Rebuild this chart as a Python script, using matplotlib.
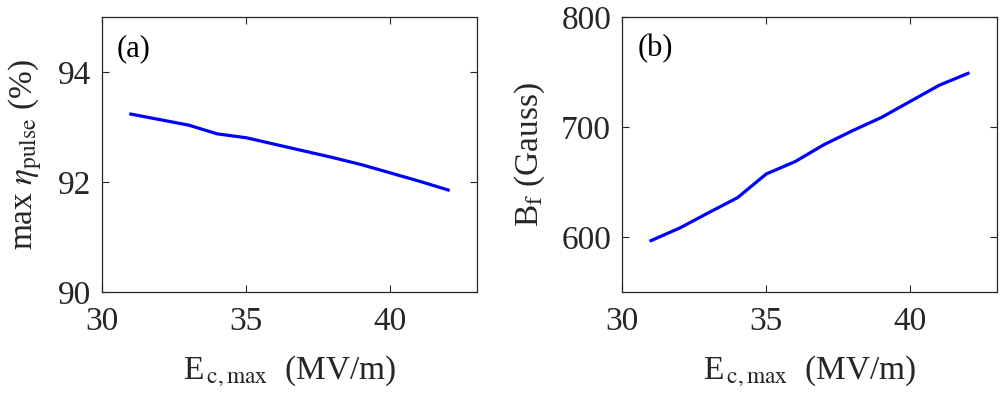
import matplotlib
matplotlib.use('Agg')
import matplotlib.pyplot as plt

plt.rcParams['font.family'] = ['Liberation Serif', 'DejaVu Serif']
plt.rcParams['mathtext.fontset'] = 'stix'
plt.rcParams['font.size'] = 24

e_cmax = [31, 32, 33, 34, 35, 36, 37, 38, 39, 40, 41, 42]
eta_pulse = [93.24, 93.14, 93.04, 92.88, 92.81, 92.69, 92.57, 92.45, 92.32, 92.17, 92.02, 91.86]
b_f = [597, 608.5, 622.4, 636, 657.6, 668.8, 684.2, 697, 709, 723.6, 738.2, 749]

dark = '#262626'

fig = plt.figure(figsize=(10.04, 4.04), dpi=100)
ax1 = fig.add_axes([0.1016, 0.2765, 0.3735, 0.6807])
ax2 = fig.add_axes([0.6198, 0.2765, 0.3730, 0.6807])

def style(ax):
    ax.tick_params(direction='in', top=True, right=True, length=5,
                   width=0.8, colors=dark, labelsize=24)
    ax.tick_params(axis='x', pad=10)
    ax.tick_params(axis='y', pad=8)
    for s in ax.spines.values():
        s.set_color(dark)
        s.set_linewidth(0.9)
    ax.set_xlim(30, 43)
    ax.set_xticks([30, 35, 40])
    ax.set_xlabel(r'E$_{\,\mathrm{c,max}}$  (MV/m)', color=dark, labelpad=12)

ax1.plot(e_cmax, eta_pulse, color='#0000ff', lw=2.3)
style(ax1)
ax1.set_ylim(90, 95)
ax1.set_yticks([90, 92, 94])
ax1.set_ylabel(r'max $\eta_{\mathrm{pulse}}$ (%)', color=dark, labelpad=10)
ax1.text(0.04, 0.885, '(a)', transform=ax1.transAxes, va='center', fontsize=22, color='black')

ax2.plot(e_cmax, b_f, color='#0000ff', lw=2.3)
style(ax2)
ax2.set_ylim(550, 800)
ax2.set_yticks([600, 700, 800])
ax2.set_ylabel(r'B$_{\mathrm{f}}$ (Gauss)', color=dark, labelpad=10)
ax2.text(0.04, 0.885, '(b)', transform=ax2.transAxes, va='center', fontsize=22, color='black')

fig.savefig('out.png', dpi=100)
